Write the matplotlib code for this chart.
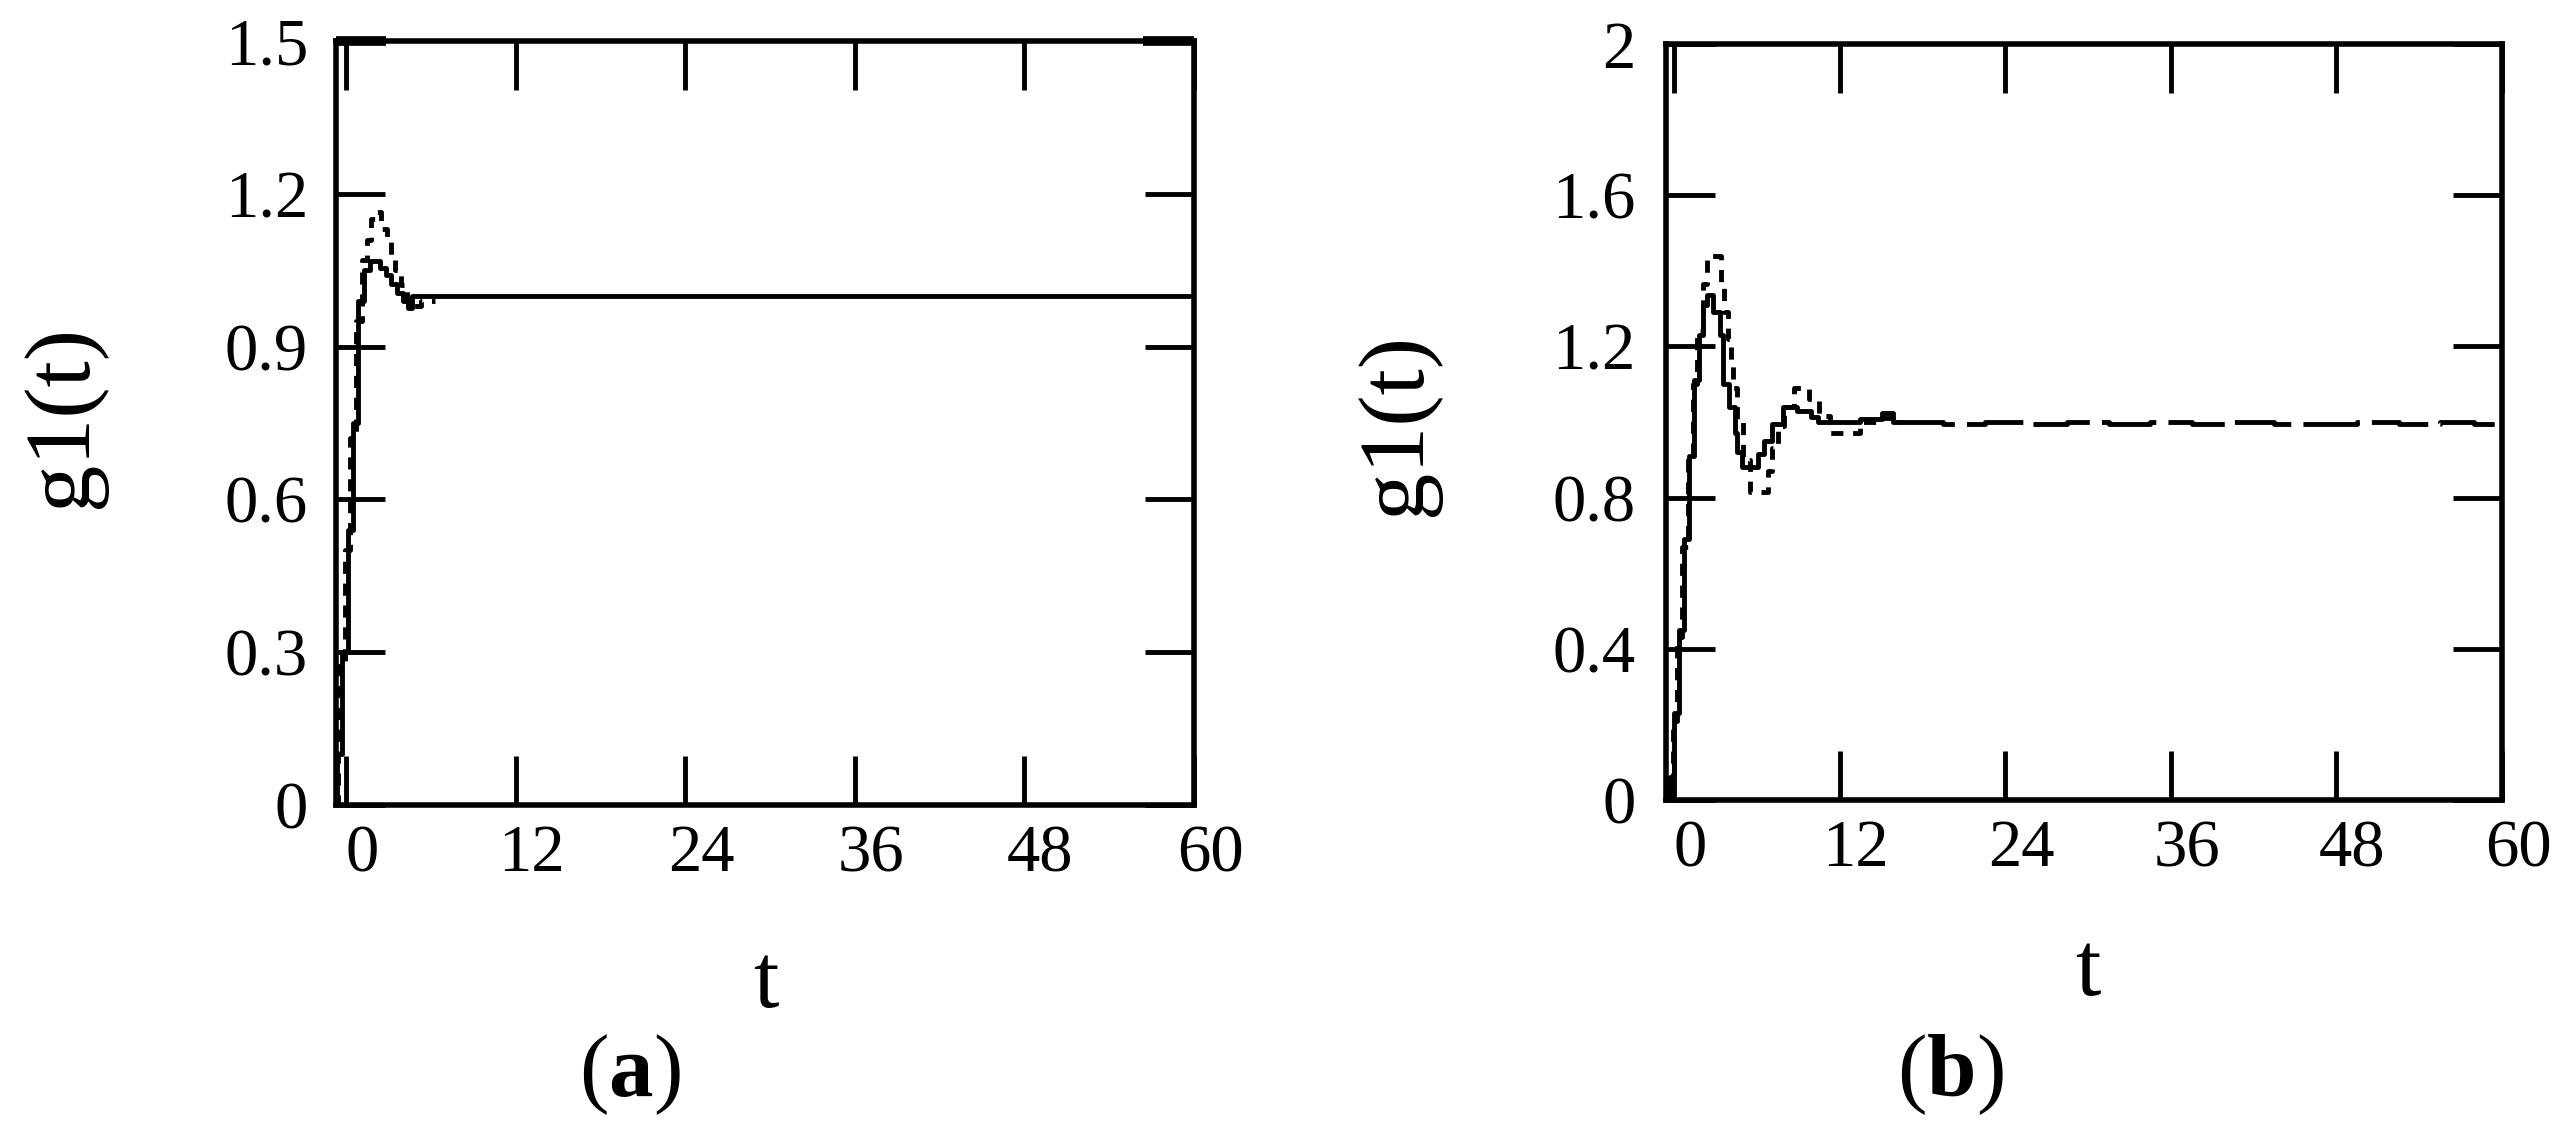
import matplotlib.pyplot as plt
import matplotlib.transforms as mtransforms

plt.rcParams['font.family'] = ['Liberation Serif', 'DejaVu Serif']
plt.rcParams['mathtext.fontset'] = 'custom'
plt.rcParams['mathtext.rm'] = 'Liberation Serif'
plt.rcParams['mathtext.bf'] = 'Liberation Serif:bold'

# ---- panel (a) data ----
t_a_solid = [-0.7, -0.65, -0.3, 0.15, 0.5, 0.85, 1.3, 1.7, 2.4, 2.8, 3.2, 3.6, 4.0, 4.4, 4.7, 60]
g_a_solid = [0.0, 0.1, 0.3, 0.54, 0.75, 0.99, 1.05, 1.068, 1.055, 1.04, 1.022, 1.005, 0.99, 0.975, 1.0, 1.0]
t_a_dash = [-0.7, -0.6, -0.55, -0.1, 0.3, 0.7, 1.1, 1.45, 1.8, 2.1, 2.5, 2.9, 3.2, 3.5, 3.9, 4.3, 4.7, 5.3, 6.3]
g_a_dash = [0.0, 0.1, 0.28, 0.5, 0.72, 0.95, 1.07, 1.11, 1.15, 1.165, 1.13, 1.11, 1.075, 1.05, 1.02, 0.99, 0.98, 0.99, 0.99]
t_a_cap = [[-0.7, 2.8], [56.4, 60]]
a_yticks = [0, 0.3, 0.6, 0.9, 1.2, 1.5]
a_ylabels = ['0', '0.3', '0.6', '0.9', '1.2', '1.5']

# ---- panel (b) data ----
t_b_solid = [-0.58, -0.3, 0.0, 0.35, 0.7, 1.1, 1.45, 1.8, 2.1, 2.4, 2.8, 3.3, 3.55, 4.0, 4.4, 4.6, 4.9,
             6.1, 6.5, 7.1, 7.9, 8.9, 9.9, 10.4, 13.5, 15.1, 15.9, 16.2]
g_b_solid = [0.0, 0.06, 0.23, 0.45, 0.69, 0.91, 1.11, 1.23, 1.31, 1.335, 1.29, 1.23, 1.10, 1.04, 0.97, 0.92, 0.88,
             0.915, 0.95, 0.995, 1.04, 1.03, 1.012, 1.0, 1.008, 1.025, 1.0, 1.0]
t_b_dash = [-0.58, -0.4, -0.1, 0.25, 0.6, 1.0, 1.35, 1.7, 2.1, 2.4, 3.4, 3.6, 3.9, 4.1, 4.3, 4.6, 5.0, 5.5,
            6.8, 7.1, 7.5, 8.0, 8.7, 9.8, 10.5, 11.3, 13.5, 15.0, 16.2]
g_b_dash = [0.0, 0.05, 0.21, 0.43, 0.67, 0.9, 1.1, 1.24, 1.365, 1.44, 1.365, 1.29, 1.22, 1.16, 1.09, 1.0, 0.9, 0.815,
            0.87, 0.93, 0.99, 1.04, 1.09, 1.06, 1.015, 0.97, 1.0, 1.01, 1.0]
t_b_tail = [16.2, 19.5, 22.5, 25.5, 28.5, 31.5, 34.5, 37.5, 40.5, 43.5, 46.5, 49.5, 52.5, 55.5, 58.0, 60]
g_b_tail = [1.0, 0.995, 1.0, 0.995, 1.0, 0.995, 1.0, 0.995, 1.0, 0.995, 0.995, 1.0, 0.995, 1.0, 0.995, 0.995]
b_yticks = [0, 0.4, 0.8, 1.2, 1.6, 2.0]
b_ylabels = ['0', '0.4', '0.8', '1.2', '1.6', '2']

x_ticks = [0, 12, 24, 36, 48, 60]
x_labels = ['0', '12', '24', '36', '48', '60']

W, H = 2571, 1131
fig = plt.figure(figsize=(W / 100, H / 100), dpi=100)


def px_axes(l, t, r, b):
    return fig.add_axes([l / W, 1 - b / H, (r - l) / W, (b - t) / H])


def style(ax, xlim, ylim, yticks, ylabels, ypad):
    ax.set_xlim(*xlim)
    ax.set_ylim(*ylim)
    ax.set_xticks(x_ticks)
    ax.set_xticklabels(x_labels)
    ax.set_yticks(yticks)
    ax.set_yticklabels(ylabels)
    for s in ax.spines.values():
        s.set_linewidth(4)
    ax.tick_params(direction='in', length=35, width=3.5, top=True, right=True,
                   labelsize=48, colors='black')
    ax.tick_params(axis='y', pad=ypad)
    ax.tick_params(axis='x', pad=14)
    # x tick labels sit a little right of their ticks in the original
    off = mtransforms.ScaledTranslation(0.16, 0, fig.dpi_scale_trans)
    for lab in ax.get_xticklabels():
        lab.set_transform(lab.get_transform() + off)


ax_a = px_axes(336, 41, 1194, 805)
ax_a.plot(t_a_solid, g_a_solid, drawstyle='steps-post', color='black', lw=3.5)
ax_a.plot(t_a_dash, g_a_dash, drawstyle='steps-post', color='black', lw=3.5, dashes=(2.5, 2))
for seg in t_a_cap:
    ax_a.plot(seg, [1.5, 1.5], color='black', lw=7, clip_on=False, solid_capstyle='butt')
style(ax_a, (-0.71, 60), (0, 1.5), a_yticks, a_ylabels, 20)

ax_b = px_axes(1666, 44, 2502, 800)
ax_b.plot(t_b_solid, g_b_solid, drawstyle='steps-post', color='black', lw=3.5)
ax_b.plot(t_b_dash, g_b_dash, drawstyle='steps-post', color='black', lw=3.5, dashes=(2.5, 2))
ax_b.plot(t_b_tail, g_b_tail, drawstyle='steps-post', color='black', lw=3.5, dashes=(12, 2.5))
style(ax_b, (-0.58, 60), (0, 2), b_yticks, b_ylabels, 22)


def ftext(x, y, s, **kw):
    fig.text(x / W, 1 - y / H, s, **kw)


ftext(63, 416, 'g1(t)', fontsize=68, rotation=90, ha='center', va='center')
ftext(1397, 424, 'g1(t)', fontsize=68, rotation=90, ha='center', va='center')
ftext(766, 1007, 't', fontsize=66, ha='center', va='baseline')
ftext(2088, 995, 't', fontsize=66, ha='center', va='baseline')
ftext(630, 1096, r'($\mathbf{a}$)', fontsize=64, ha='center', va='baseline')
ftext(1950, 1096, r'($\mathbf{b}$)', fontsize=64, ha='center', va='baseline')

fig.savefig('out.png', dpi=100)
